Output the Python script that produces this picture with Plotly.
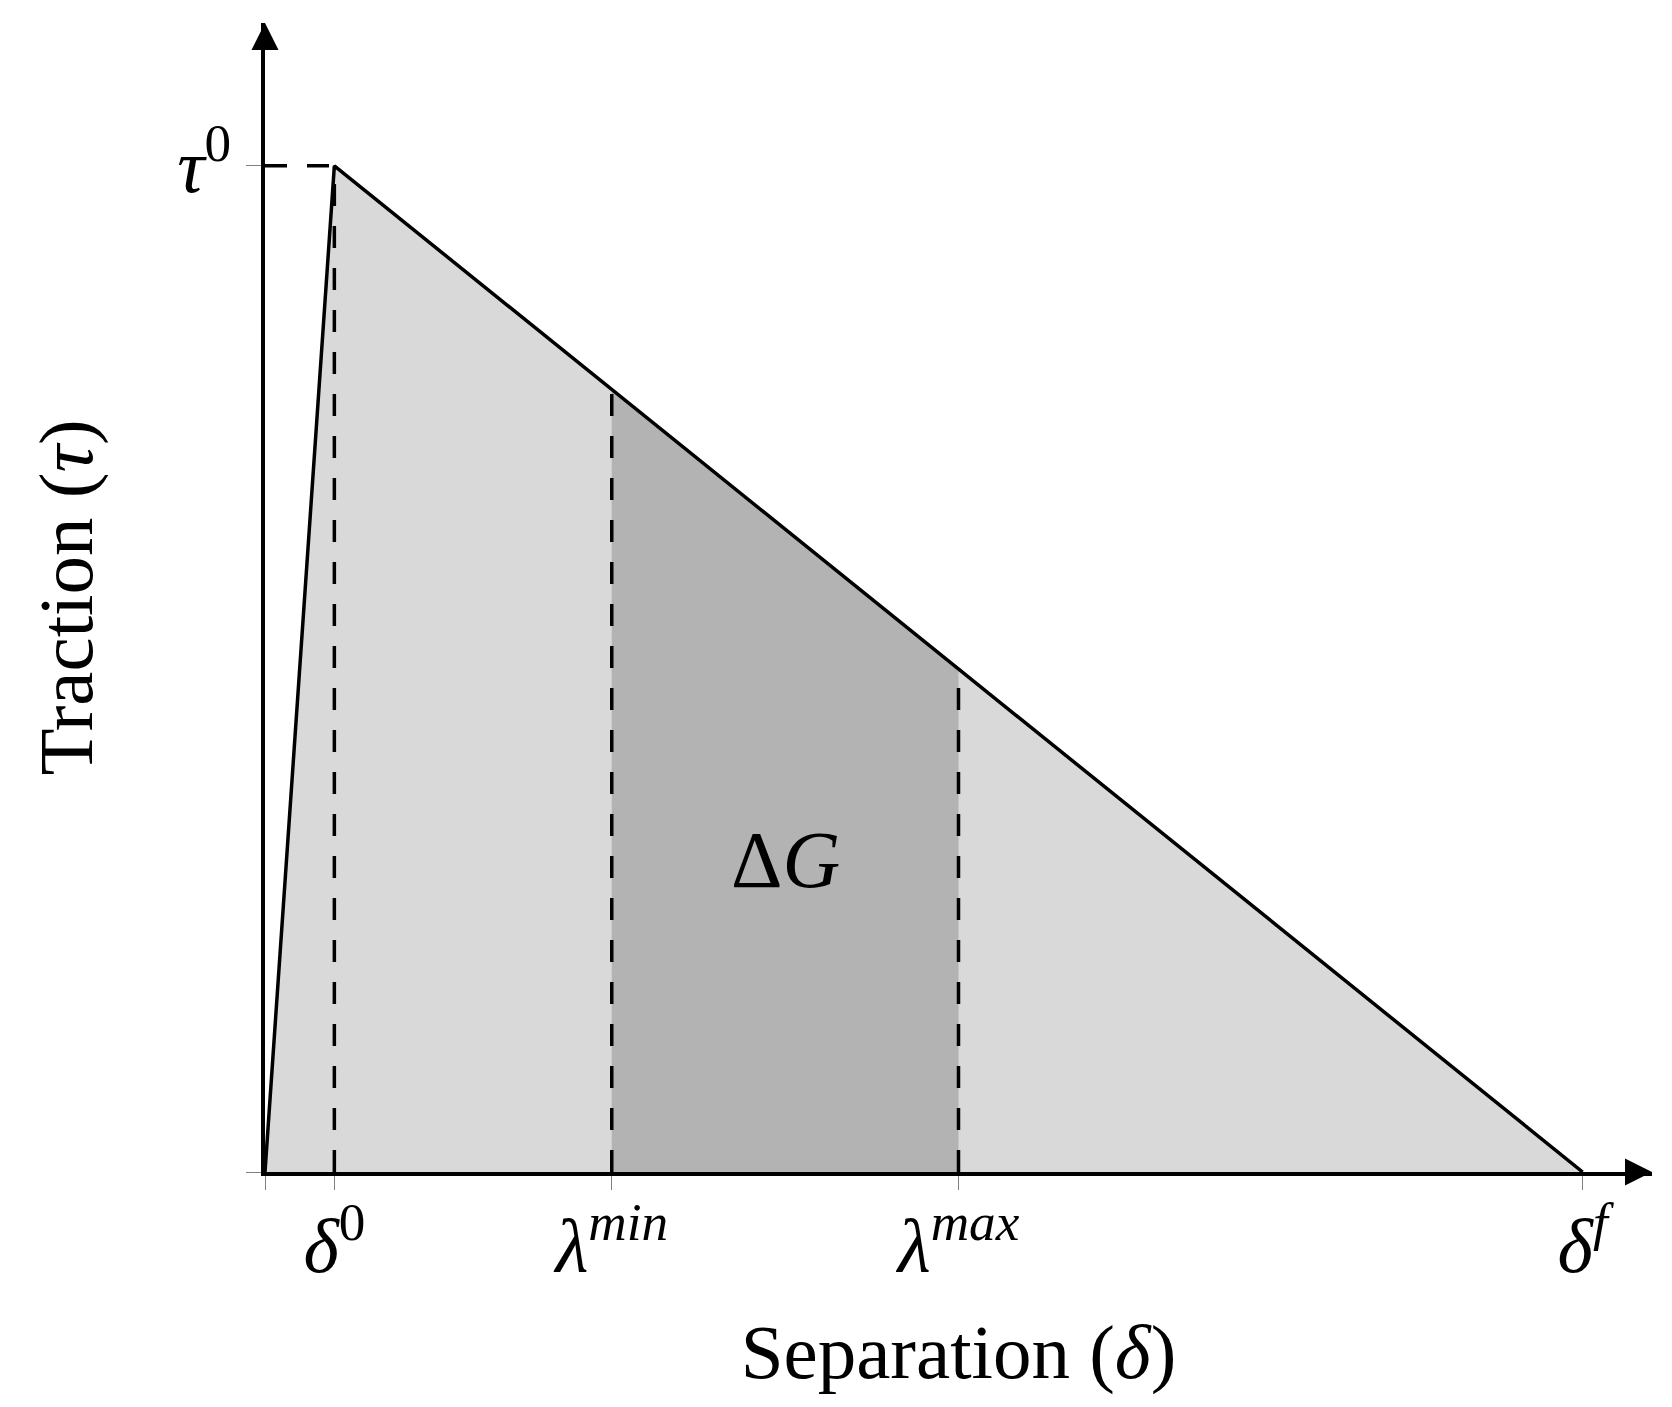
import plotly.graph_objects as go

# ---- values (normalised units) ----
delta0 = 1.0        # separation at damage onset
lam_min = 5.0       # lower bound of the ΔG band
lam_max = 10.0      # upper bound of the ΔG band
delta_f = 19.0      # final separation
tau0 = 1.0          # peak traction
tau_at_lam = [0.778, 0.5]   # traction read at λmin and λmax

curve_x = [0.0, delta0, delta_f]
curve_y = [0.0, tau0, 0.0]

x_tickvals = [0.0, delta0, lam_min, lam_max, delta_f]
x_ticktext = ["", "<i>δ</i><sup>0</sup>", "<i>λ</i><sup><i>min</i></sup>",
              "<i>λ</i><sup><i>max</i></sup>", "<i>δ</i><sup><i>f</i></sup>"]
y_tickvals = [0.0, tau0]
y_ticktext = ["", "<i>τ</i><sup>0</sup>"]

x_end = 20.0     # tip of separation axis arrow
y_end = 1.142    # tip of traction axis arrow

FONT = "Liberation Serif"
LIGHT = "#d9d9d9"
DARK = "#b3b3b3"
LW = 3.5

fig = go.Figure()

# light grey area under the whole law
fig.add_trace(go.Scatter(x=curve_x, y=curve_y, fill="toself", fillcolor=LIGHT,
                         mode="none", hoverinfo="skip", showlegend=False))
# dark band between λmin and λmax
fig.add_trace(go.Scatter(x=[lam_min, lam_min, lam_max, lam_max],
                         y=[0.0, tau_at_lam[0], tau_at_lam[1], 0.0],
                         fill="toself", fillcolor=DARK, mode="none",
                         hoverinfo="skip", showlegend=False))

dash_style = dict(color="black", width=LW, dash="22px,20px")
# horizontal dashed at τ0
fig.add_trace(go.Scatter(x=[0.0, delta0], y=[tau0, tau0], mode="lines",
                         line=dash_style, hoverinfo="skip", showlegend=False))
# vertical dashed lines (drawn from the axis upward)
for xv, yv in [(delta0, tau0), (lam_min, tau_at_lam[0]), (lam_max, tau_at_lam[1])]:
    fig.add_trace(go.Scatter(x=[xv, xv], y=[0.0, yv], mode="lines",
                             line=dash_style, hoverinfo="skip", showlegend=False))

# traction-separation law
fig.add_trace(go.Scatter(x=curve_x, y=curve_y, mode="lines",
                         line=dict(color="black", width=LW),
                         hoverinfo="skip", showlegend=False))

# axis arrow heads
fig.add_trace(go.Scatter(x=[x_end], y=[0.0], mode="markers", cliponaxis=False,
                         marker=dict(symbol="arrow-right", size=27, color="black"),
                         hoverinfo="skip", showlegend=False))
fig.add_trace(go.Scatter(x=[0.0], y=[y_end], mode="markers", cliponaxis=False,
                         marker=dict(symbol="arrow-up", size=27, color="black"),
                         hoverinfo="skip", showlegend=False))

fig.add_annotation(x=7.5, y=0.31, text="Δ<i>G</i>", showarrow=False,
                   font=dict(family=FONT, size=80, color="black"))

axis_common = dict(showgrid=False, zeroline=False, showline=True, linecolor="black",
                   linewidth=LW, layer="below traces", tickmode="array",
                   ticks="outside", tickwidth=1, tickcolor="#808080",
                   tickfont=dict(family=FONT, size=76, color="black"))

fig.update_layout(
    width=1656, height=1391, autosize=False,
    margin=dict(l=257, r=12, t=15, b=227),
    paper_bgcolor="white", plot_bgcolor="white",
    font=dict(family=FONT, color="black"),
    xaxis=dict(range=[0.0, x_end], tickvals=x_tickvals, ticktext=x_ticktext,
               ticklen=14, ticklabelstandoff=-9,
               title=dict(text="Separation (<i>δ</i>)", standoff=38,
                          font=dict(family=FONT, size=77, color="black")),
               **axis_common),
    yaxis=dict(range=[0.0, y_end], tickvals=y_tickvals, ticktext=y_ticktext,
               ticklen=15, ticklabelstandoff=0,
               title=dict(text="Traction (<i>τ</i>)", standoff=60,
                          font=dict(family=FONT, size=77, color="black")),
               **axis_common),
)

fig.write_html("out.html")
